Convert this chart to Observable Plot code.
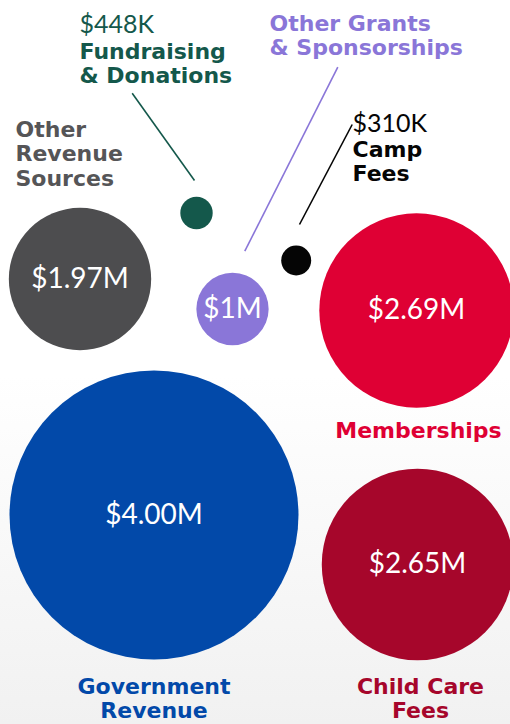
<!DOCTYPE html>
<html><head><meta charset="utf-8">
<script src="https://cdn.jsdelivr.net/npm/d3@7"></script>
<script src="https://cdn.jsdelivr.net/npm/@observablehq/plot@0.6"></script>
<style>
html,body{margin:0;padding:0;}
body{width:510px;height:724px;background:linear-gradient(to bottom,#ffffff 0%,#ffffff 52%,#f1f1f1 100%);overflow:hidden;}
#chart svg{display:block;background:transparent;}
g[aria-label="values"]{filter:drop-shadow(0 1px 1.5px rgba(0,0,0,0.35));}
</style></head><body><div id="chart"></div>
<script>
// ---- Data ----
const categories = ["Government Revenue","Memberships","Child Care Fees","Other Revenue Sources","Other Grants & Sponsorships","Fundraising & Donations","Camp Fees"];
const values = [4.00, 2.69, 2.65, 1.97, 1.00, 0.448, 0.31]; // $ millions
const valueLabels = ["$4.00M","$2.69M","$2.65M","$1.97M","$1M","$448K","$310K"];
const nameLabels = ["Government\nRevenue","Memberships","Child Care\nFees","Other\nRevenue\nSources","Other Grants\n& Sponsorships","Fundraising\n& Donations","Camp\nFees"];

// ---- Styles ----
const colors = ["#0249a9","#df0034","#a6062b","#4d4d4f","#8a76d8","#14584b","#050505"];
const labelColors = ["#0249a9","#df0034","#a6062b","#555557","#8a76d8","#14584b","#050505"];

// ---- Layout (chart pixel coordinates) ----
const bubbleX = [153.5, 416, 417, 79.5, 232, 196, 295.7];
const bubbleY = [514.5, 310, 564, 278.5, 308.5, 212.5, 260];
const valueInside = [true, true, true, true, true, false, false];
const nameX = [153.5, 418, 420, 15, 269, 79, 352];
const nameTop = [676, 420, 676, 119, 13, 41, 139];
const nameAnchor = ["middle","middle","middle","start","start","start","start"];
const outValueTop = [null, null, null, null, null, 15, 113.5];
const leaderFrom = [null, null, null, null, [337.3, 66.7], [131.7, 92.7], [351.7, 124]];
const leaderTo = [null, null, null, null, [244.3, 250.7], [194, 180], [299, 224]];

const rows = categories.map((c, i) => ({
  category: c, value: values[i], valueLabel: valueLabels[i], name: nameLabels[i],
  color: colors[i], labelColor: labelColors[i],
  x: bubbleX[i], y: bubbleY[i], inside: valueInside[i],
  nx: nameX[i], ny: nameTop[i], anchor: nameAnchor[i], vy: outValueTop[i],
  lf: leaderFrom[i], lt: leaderTo[i]
}));
const leaders = rows.filter(d => d.lf);

const valueFont = "Lato, 'Open Sans', sans-serif";
const nameFont = "'DejaVu Sans', Verdana, sans-serif";
const nameMark = (anchor) => Plot.text(rows.filter(d => d.anchor === anchor), {
  x: "nx", y: "ny", text: "name", fill: d => d.labelColor,
  textAnchor: anchor === "middle" ? "middle" : "start",
  lineAnchor: "top", lineHeight: 1.11,
  fontFamily: nameFont, fontWeight: 700, fontSize: 22
});

const chart = Plot.plot({
  width: 510, height: 724, margin: 0,
  x: {domain: [0, 510], range: [0, 510], axis: null},
  y: {domain: [0, 724], range: [0, 724], axis: null},
  r: {type: "linear", domain: [0, 0.31, 0.448, 4], range: [0, 15, 16.2, 144.5]},
  color: {type: "identity"},
  style: {background: "transparent", overflow: "visible"},
  marks: [
    Plot.link(leaders, {x1: d => d.lf[0], y1: d => d.lf[1], x2: d => d.lt[0], y2: d => d.lt[1], stroke: d => d.color, strokeWidth: 1.6}),
    Plot.dot(rows, {x: "x", y: "y", r: "value", fill: "color", stroke: null}),
    Plot.text(rows.filter(d => d.inside), {x: "x", y: "y", text: "valueLabel", fill: "white", fontFamily: valueFont, fontWeight: 400, fontSize: 28, ariaLabel: "values"}),
    Plot.text(rows.filter(d => !d.inside), {x: "nx", y: "vy", text: "valueLabel", fill: d => d.labelColor, textAnchor: "start", lineAnchor: "top", fontFamily: valueFont, fontWeight: 400, fontSize: 25}),
    nameMark("middle"),
    nameMark("start")
  ]
});
document.getElementById("chart").append(chart);
</script></body></html>
